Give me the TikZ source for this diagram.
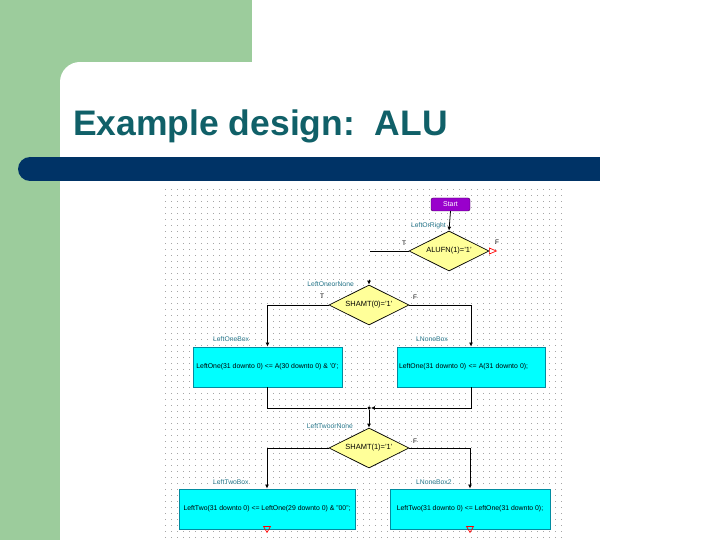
\documentclass[tikz,border=0pt]{standalone}
\usepackage{fontspec}
\setmainfont{Liberation Sans}
\usetikzlibrary{shapes.geometric,arrows.meta}
\definecolor{slidegreen}{RGB}{156,204,156}
\definecolor{titleteal}{RGB}{16,96,104}
\definecolor{barnavy}{RGB}{0,51,102}
\definecolor{startpurple}{RGB}{153,0,204}
\definecolor{decyellow}{RGB}{255,255,153}
\definecolor{boxcyan}{RGB}{0,255,255}
\definecolor{boxedge}{RGB}{0,140,160}
\definecolor{lbltext}{RGB}{40,120,140}
\definecolor{griddot}{RGB}{165,165,165}
\tikzset{
startbox/.style={draw=black!60!startpurple, fill=startpurple, rounded corners=2bp, minimum width=39bp, minimum height=13bp, inner sep=0pt, text=white, font=\fontsize{7}{8}\selectfont},
decision/.style={diamond, aspect=2, draw=black, line width=0.7bp, fill=decyellow, minimum width=80bp, minimum height=40bp, inner sep=0pt, font=\fontsize{7.5}{8}\selectfont},
actionbox/.style={draw=boxedge, line width=0.9bp, fill=boxcyan, minimum height=40bp, inner sep=2bp, font=\fontsize{6.9}{8}\selectfont},
boxname/.style={text=lbltext, inner sep=0pt, font=\fontsize{6.8}{8}\selectfont},
branch/.style={inner sep=0pt, font=\fontsize{6.5}{7}\selectfont},
flow/.style={draw=black, line width=0.8bp},
flowarrow/.style={flow, -{Latex[length=4bp,width=4bp]}},
endmark/.style={draw=red, line width=0.7bp},
joint/.style={circle, fill=black, inner sep=0pt, minimum size=3.5bp}
}
\begin{document}
\begin{tikzpicture}[x=1bp,y=-1bp]
\useasboundingbox (0,0) rectangle (720,540);
\fill[white] (0,0) rectangle (720,540);
\fill[slidegreen] (0,0) rectangle (252,62);
\fill[slidegreen] (0,0) rectangle (60,540);
\fill[slidegreen] (60,62) rectangle (80,82);
\fill[white] (80,82) circle (20);
\node[anchor=base west, inner sep=0pt, text=titleteal, font=\fontsize{35.6}{40}\selectfont\bfseries] (title) at (73,136) {Example design:\ \ ALU};
\fill[barnavy] (30,157) rectangle (600,181);
\fill[barnavy] (30,169) circle (12);
\foreach \gx in {165,171,...,561} \foreach \gy in {189,195,...,537} \fill[griddot] (\gx,\gy) rectangle ++(1,1);
\node[startbox] (start) at (450.5,204.5) {Start};
\node[decision] (d1) at (449,251) {ALUFN(1)='1'};
\node[decision] (d2) at (369,305) {SHAMT(0)='1'};
\node[decision] (d3) at (369,448) {SHAMT(1)='1'};
\node[actionbox, minimum width=149bp] (b1) at (267.5,367) {LeftOne(31 downto 0) <= A(30 downto 0) \& '0';};
\node[actionbox, text width=144bp, align=left] (b2) at (471,367) {LeftOne(31 downto 0) <= A(31 downto 0);};
\node[actionbox, minimum width=176bp] (b3) at (267,509) {LeftTwo(31 downto 0) <= LeftOne(29 downto 0) \& "00";};
\node[actionbox, minimum width=160bp] (b4) at (470,509) {LeftTwo(31 downto 0) <= LeftOne(31 downto 0);};
\node[boxname, anchor=east] (lblLR) at (446,226) {LeftOrRight};
\node[boxname, anchor=east] (lblLON) at (354,284) {LeftOneorNone};
\node[boxname, anchor=east] (lblLTN) at (353,426) {LeftTwoorNone};
\node[boxname, anchor=west] (lblB1) at (213,339) {LeftOneBox};
\node[boxname, anchor=west] (lblB2) at (416,339) {LNoneBox};
\node[boxname, anchor=west] (lblB3) at (213,482) {LeftTwoBox};
\node[boxname, anchor=west] (lblB4) at (416,482) {LNoneBox2};
\node[branch] (t1) at (404,243) {T};
\node[branch] (f1) at (497,242) {F};
\node[branch] (t2) at (322,296) {T};
\node[branch] (f2) at (415,297) {F};
\node[branch] (f3) at (415,441) {F};
\coordinate (loopend) at (370,251);
\coordinate (d2in) at (369,280);
\node[joint] (j1) at (369,408) {};
\draw[flowarrow] (start.south) -- (d1.north);
\draw[flow] (d1.west) -- (loopend);
\draw[flowarrow] (d2in) -- (d2.north);
\draw[flowarrow] (d2.west) -| (b1.north);
\draw[flowarrow] (d2.east) -| (b2.north);
\draw[flow] (b1.south) |- (j1);
\draw[flowarrow] (b2.south) |- (j1.east);
\draw[flowarrow] (j1) -- (d3.north);
\draw[flowarrow] (d3.west) -| (b3.north);
\draw[flowarrow] (d3.east) -| (b4.north);
\draw[endmark] ([yshift=3bp]d1.east) -- ([xshift=7bp]d1.east) -- ([yshift=-3bp]d1.east) -- cycle;
\draw[endmark] ([xshift=-3.5bp,yshift=3bp]b3.south) -- ([xshift=3.5bp,yshift=3bp]b3.south) -- ([yshift=-3bp]b3.south) -- cycle;
\draw[endmark] ([xshift=-3.5bp,yshift=3bp]b4.south) -- ([xshift=3.5bp,yshift=3bp]b4.south) -- ([yshift=-3bp]b4.south) -- cycle;
\end{tikzpicture}
\end{document}
